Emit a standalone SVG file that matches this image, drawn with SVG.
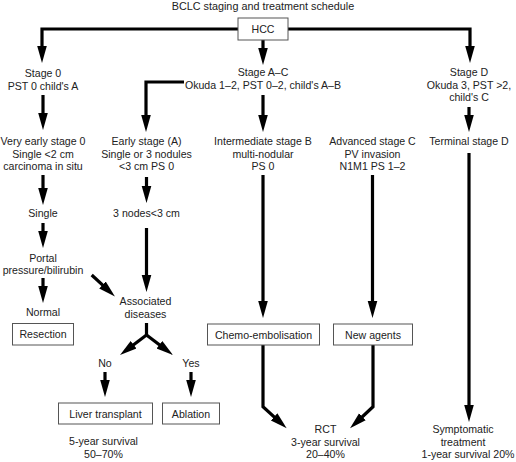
<svg xmlns="http://www.w3.org/2000/svg" width="516" height="462" viewBox="0 0 516 462">
<defs>
<marker id="ah" markerUnits="userSpaceOnUse" markerWidth="18" markerHeight="12" viewBox="0 -6 18 12" refX="7" refY="0" orient="auto">
<path d="M0,-4.8 L17,0 L0,4.8 z" fill="#000"/>
</marker>
<style>
text{font-family:"Liberation Sans",Arial,sans-serif;font-size:10.6px;fill:#222;text-anchor:middle}
.box{fill:#fff;stroke:#555;stroke-width:1}
.c path{fill:none;stroke:#000;stroke-width:3.2;marker-end:url(#ah)}
.c path.n{marker-end:none}
</style>
</defs>
<rect width="516" height="462" fill="#fff"/>
<text x="263" y="10" style="font-size:10.8px">BCLC staging and treatment schedule</text>
<g class="c" id="connectors">
<path d="M238,29 H42 V53"/>
<path d="M288,29 H470 V53"/>
<path d="M263,40 V55"/>
<path d="M43,95 V120"/>
<path d="M184,82 H146 V122"/>
<path d="M263,95 V122"/>
<path d="M469,107 V122"/>
<path d="M43,175 V195"/>
<path d="M146.5,177 V193"/>
<path d="M43,223 V238"/>
<path d="M43,278 V293"/>
<path d="M91.7,275 L107.6,289.7"/>
<path d="M146.5,228 V282"/>
<path class="n" d="M146.5,323 V335"/>
<path d="M146.5,335 L128,349"/>
<path d="M146.5,335 L165,349"/>
<path d="M105,372 V387"/>
<path d="M191,372 V387"/>
<path d="M263,175 V308"/>
<path d="M372.5,175 V308"/>
<path d="M469,153 V412"/>
<path d="M263,345 V406.7 L279.3,421.6"/>
<path d="M373,345 V406.7 L357.3,421.5"/>
</g>
<g id="hcc"><rect class="box" x="238" y="18" width="50" height="22"/><text x="263" y="33">HCC</text></g>
<g id="stage0"><text x="43" y="77">Stage 0</text><text x="43" y="90">PST 0 child's A</text></g>
<g id="stageAC"><text x="263" y="76">Stage A–C</text><text x="263" y="89">Okuda 1–2, PST 0–2, child's A–B</text></g>
<g id="stageD"><text x="469" y="76">Stage D</text><text x="469" y="88.5">Okuda 3, PST &gt;2,</text><text x="469" y="101">child's C</text></g>
<g id="veryearly"><text x="43" y="145">Very early stage 0</text><text x="43" y="157.5">Single &lt;2 cm</text><text x="43" y="170">carcinoma in situ</text></g>
<g id="early"><text x="146.5" y="145">Early stage (A)</text><text x="146.5" y="157.5">Single or 3 nodules</text><text x="146.5" y="170">&lt;3 cm PS 0</text></g>
<g id="intermediate"><text x="263" y="145">Intermediate stage B</text><text x="263" y="157.5">multi-nodular</text><text x="263" y="170">PS 0</text></g>
<g id="advanced"><text x="372.5" y="145">Advanced stage C</text><text x="372.5" y="157.5">PV invasion</text><text x="372.5" y="170">N1M1 PS 1–2</text></g>
<g id="terminal"><text x="469" y="145">Terminal stage D</text></g>
<g id="single"><text x="43" y="217">Single</text></g>
<g id="nodes"><text x="146.5" y="217">3 nodes&lt;3 cm</text></g>
<g id="portal"><text x="43" y="261.5">Portal</text><text x="43" y="273.5">pressure/bilirubin</text></g>
<g id="normal"><text x="43" y="316">Normal</text></g>
<g id="resection"><rect class="box" x="12.5" y="323.5" width="61" height="21.5"/><text x="43" y="338">Resection</text></g>
<g id="associated"><text x="145.5" y="305">Associated</text><text x="145.5" y="317.5">diseases</text></g>
<g id="no"><text x="105" y="367">No</text></g>
<g id="yes"><text x="191" y="367">Yes</text></g>
<g id="liver"><rect class="box" x="58.5" y="403" width="94" height="21"/><text x="105.5" y="418">Liver transplant</text></g>
<g id="ablation"><rect class="box" x="162.5" y="403" width="57" height="21"/><text x="191" y="418">Ablation</text></g>
<g id="surv5"><text x="103.5" y="445">5-year survival</text><text x="103.5" y="458">50–70%</text></g>
<g id="chemo"><rect class="box" x="207.5" y="324" width="112" height="21"/><text x="263.5" y="338.5">Chemo-embolisation</text></g>
<g id="newagents"><rect class="box" x="333.5" y="324" width="79" height="21"/><text x="373" y="338.5">New agents</text></g>
<g id="rct"><text x="325.5" y="433">RCT</text><text x="325.5" y="446">3-year survival</text><text x="325.5" y="458">20–40%</text></g>
<g id="symptomatic"><text x="463" y="433">Symptomatic</text><text x="463" y="446">treatment</text><text x="468" y="458">1-year survival 20%</text></g>
</svg>
